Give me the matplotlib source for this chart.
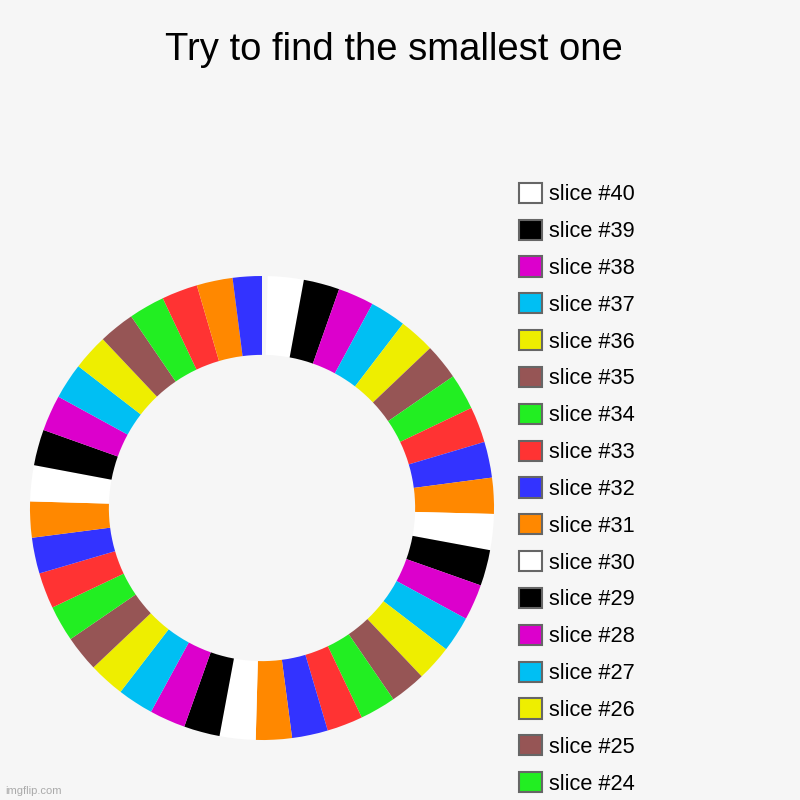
import matplotlib
matplotlib.use("Agg")
import matplotlib.pyplot as plt
import matplotlib.patches as mpatches

plt.rcParams['font.family'] = ['Liberation Sans', 'DejaVu Sans']

title = "Try to find the smallest one"

# slices in drawing order (clockwise from the top), legend lists them the same way
slice_labels = [f"slice #{n}" for n in range(40, 0, -1)]
slice_values = [1.0] * 39 + [0.81]
cycle = ['#ffffff', '#000000', '#dc00cc', '#00bff3', '#eeee00',
         '#965555', '#22ee22', '#ff3333', '#3333ff', '#ff8800']
slice_colors = cycle * 3 + cycle[:8] + ['#ff8800', '#3333ff']

# small empty sliver right of 12 o'clock
gap_value = 0.155
bg = '#f6f6f6'

# only the first 17 legend rows fit on the image
shown = 17

fig = plt.figure(figsize=(8, 8), dpi=100, facecolor=bg)

cx, cy, r = 262, 508, 232
ax = fig.add_axes([(cx - r) / 800, (800 - cy - r) / 800, 2 * r / 800, 2 * r / 800])
ax.set_facecolor(bg)
ax.pie([gap_value] + slice_values, colors=[bg] + slice_colors,
       startangle=90, counterclock=False, radius=1.0,
       wedgeprops=dict(width=0.34, linewidth=0))
ax.set_xlim(-1, 1)
ax.set_ylim(-1, 1)
ax.set_aspect('equal')
ax.axis('off')

fig.text(394 / 800, 1 - 50 / 800, title, ha='center', va='center', fontsize=27.5)

handles = [mpatches.Patch(facecolor=c, edgecolor='#666666', linewidth=1.5)
           for c in slice_colors[:shown]]
fig.legend(handles, slice_labels[:shown], loc='upper left',
           bbox_to_anchor=(510 / 800, 1 - 174 / 800), frameon=False,
           fontsize=15.7, handlelength=1.05, handleheight=1.05,
           handletextpad=0.33, labelspacing=0.655, borderaxespad=0)

fig.text(5 / 800, 1 - 791 / 800, "imgflip.com", color='#aaaaaa',
         fontsize=8, ha='left', va='center')

fig.savefig('out.png', dpi=100, facecolor=bg)
